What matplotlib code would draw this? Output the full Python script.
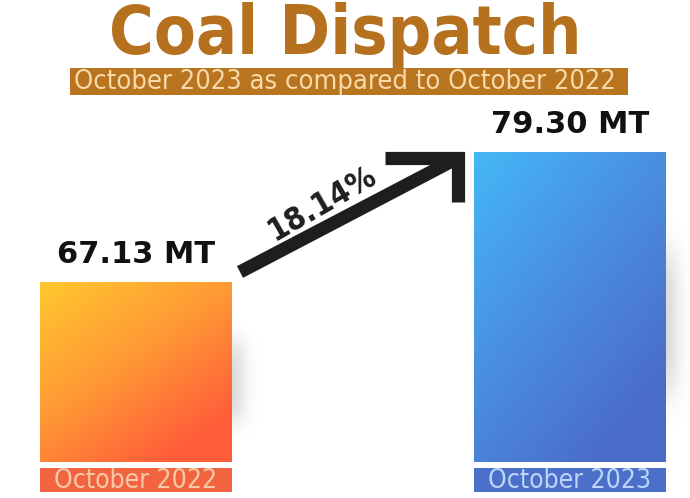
import numpy as np
import matplotlib.pyplot as plt
from matplotlib.colors import LinearSegmentedColormap
from matplotlib.patches import Rectangle
from matplotlib.lines import Line2D
import matplotlib.transforms as mtransforms

# Chart data
periods = ['October 2022', 'October 2023']
dispatch_mt = [67.13, 79.30]
growth_pct = 18.14
title = 'Coal Dispatch'
subtitle = 'October 2023 as compared to October 2022'

# Value axis floor of the infographic (bars are not drawn from zero)
y_floor = 50.28

bar_cmaps = [
    LinearSegmentedColormap.from_list('warm', ['#FFC72F', '#FF9A35', '#FF5C3A']),
    LinearSegmentedColormap.from_list('cool', ['#44B8F7', '#4A8FE0', '#4A6CC8']),
]
label_box = ['#F2633F', '#4C6FC9']
label_txt = ['#F8C9A8', '#BBD6F7']

fig = plt.figure(figsize=(6.9, 4.98), dpi=100)
fig.patch.set_facecolor('white')

W, H = 690, 498
ax = fig.add_axes([40 / W, 36 / H, 626 / W, 310 / H])
ax.set_xlim(-0.2212, 1.2212)
ax.set_ylim(y_floor, dispatch_mt[1])
ax.axis('off')

x = np.arange(len(periods))
width = 0.442
bars = ax.bar(x, np.array(dispatch_mt) - y_floor, bottom=y_floor, width=width,
              color='none', edgecolor='none')

# diagonal gradient fill for each bar
gx, gy = np.meshgrid(np.linspace(0, 1, 200), np.linspace(0, 1, 200))
grad = np.clip((gx * 0.6 + gy * 0.8) / 1.2, 0, 1)

# soft shadow image (grey, fading out to the right and at both ends)
sx, sy = np.meshgrid(np.linspace(0, 1, 60), np.linspace(-1, 1, 120))
shadow = np.zeros((120, 60, 4))
shadow[..., :3] = 0.55
shadow[..., 3] = 0.3 * np.exp(-(sx / 0.35) ** 2) * np.exp(-(sy / 0.6) ** 4)

for i, b in enumerate(bars):
    x0, y0 = b.get_x(), b.get_y()
    x1, y1 = x0 + b.get_width(), y0 + b.get_height()
    h = y1 - y0
    ax.imshow(shadow, extent=[x1, x1 + 0.09, y0 + 0.05 * h, y1 - 0.15 * h],
              aspect='auto', zorder=0, clip_on=False)
    im = ax.imshow(grad, cmap=bar_cmaps[i], extent=[x0, x1, y0, y1],
                   origin='upper', aspect='auto', zorder=1)
    im.set_clip_path(b)

    ax.text(x[i], dispatch_mt[i] + 1.2, f'{dispatch_mt[i]:.2f} MT', ha='center',
            va='bottom', fontsize=22, fontweight='heavy', color='#111111', clip_on=False)

    # period label boxes
    trans = mtransforms.blended_transform_factory(ax.transData, ax.transAxes)
    ax.add_patch(Rectangle((x0, -0.0968), width, 0.0774, transform=trans,
                           color=label_box[i], lw=0, clip_on=False))
    ax.text(x[i], -0.06, periods[i], transform=trans, ha='center', va='center',
            fontsize=19, color=label_txt[i], fontstretch='condensed', clip_on=False)

# title block
fig.text(0.5, 1 - 54 / H, title, ha='center', va='baseline', fontsize=49,
         fontweight='bold', fontstretch='condensed', color='#B5711E')
fig.patches.append(Rectangle((70 / W, 1 - 95 / H), 558 / W, 27 / H,
                             transform=fig.transFigure, color='#B8741F', lw=0))
fig.text(0.5, 1 - 82 / H, subtitle, ha='center', va='center', fontsize=19.5,
         fontstretch='condensed', color='#F8D9A8')

# growth arrow: shaft plus open L-shaped head
px = lambda u, v: (u / W, 1 - v / H)
shaft = [px(240, 272), px(452, 161)]
head = [px(385, 158), px(458, 158), px(458, 202)]
for pts in (shaft, head):
    xs, ys = zip(*pts)
    fig.lines.append(Line2D(xs, ys, transform=fig.transFigure, lw=9.5,
                            color='#1E1E1E', solid_capstyle='butt',
                            solid_joinstyle='miter'))
fig.text(323 / W, 1 - 204 / H, f'{growth_pct:.2f}%', ha='center', va='center',
         rotation=30, fontsize=23, fontweight='bold', fontstretch='condensed',
         color='#1E1E1E')

fig.savefig('out.png', dpi=100, facecolor='white')
